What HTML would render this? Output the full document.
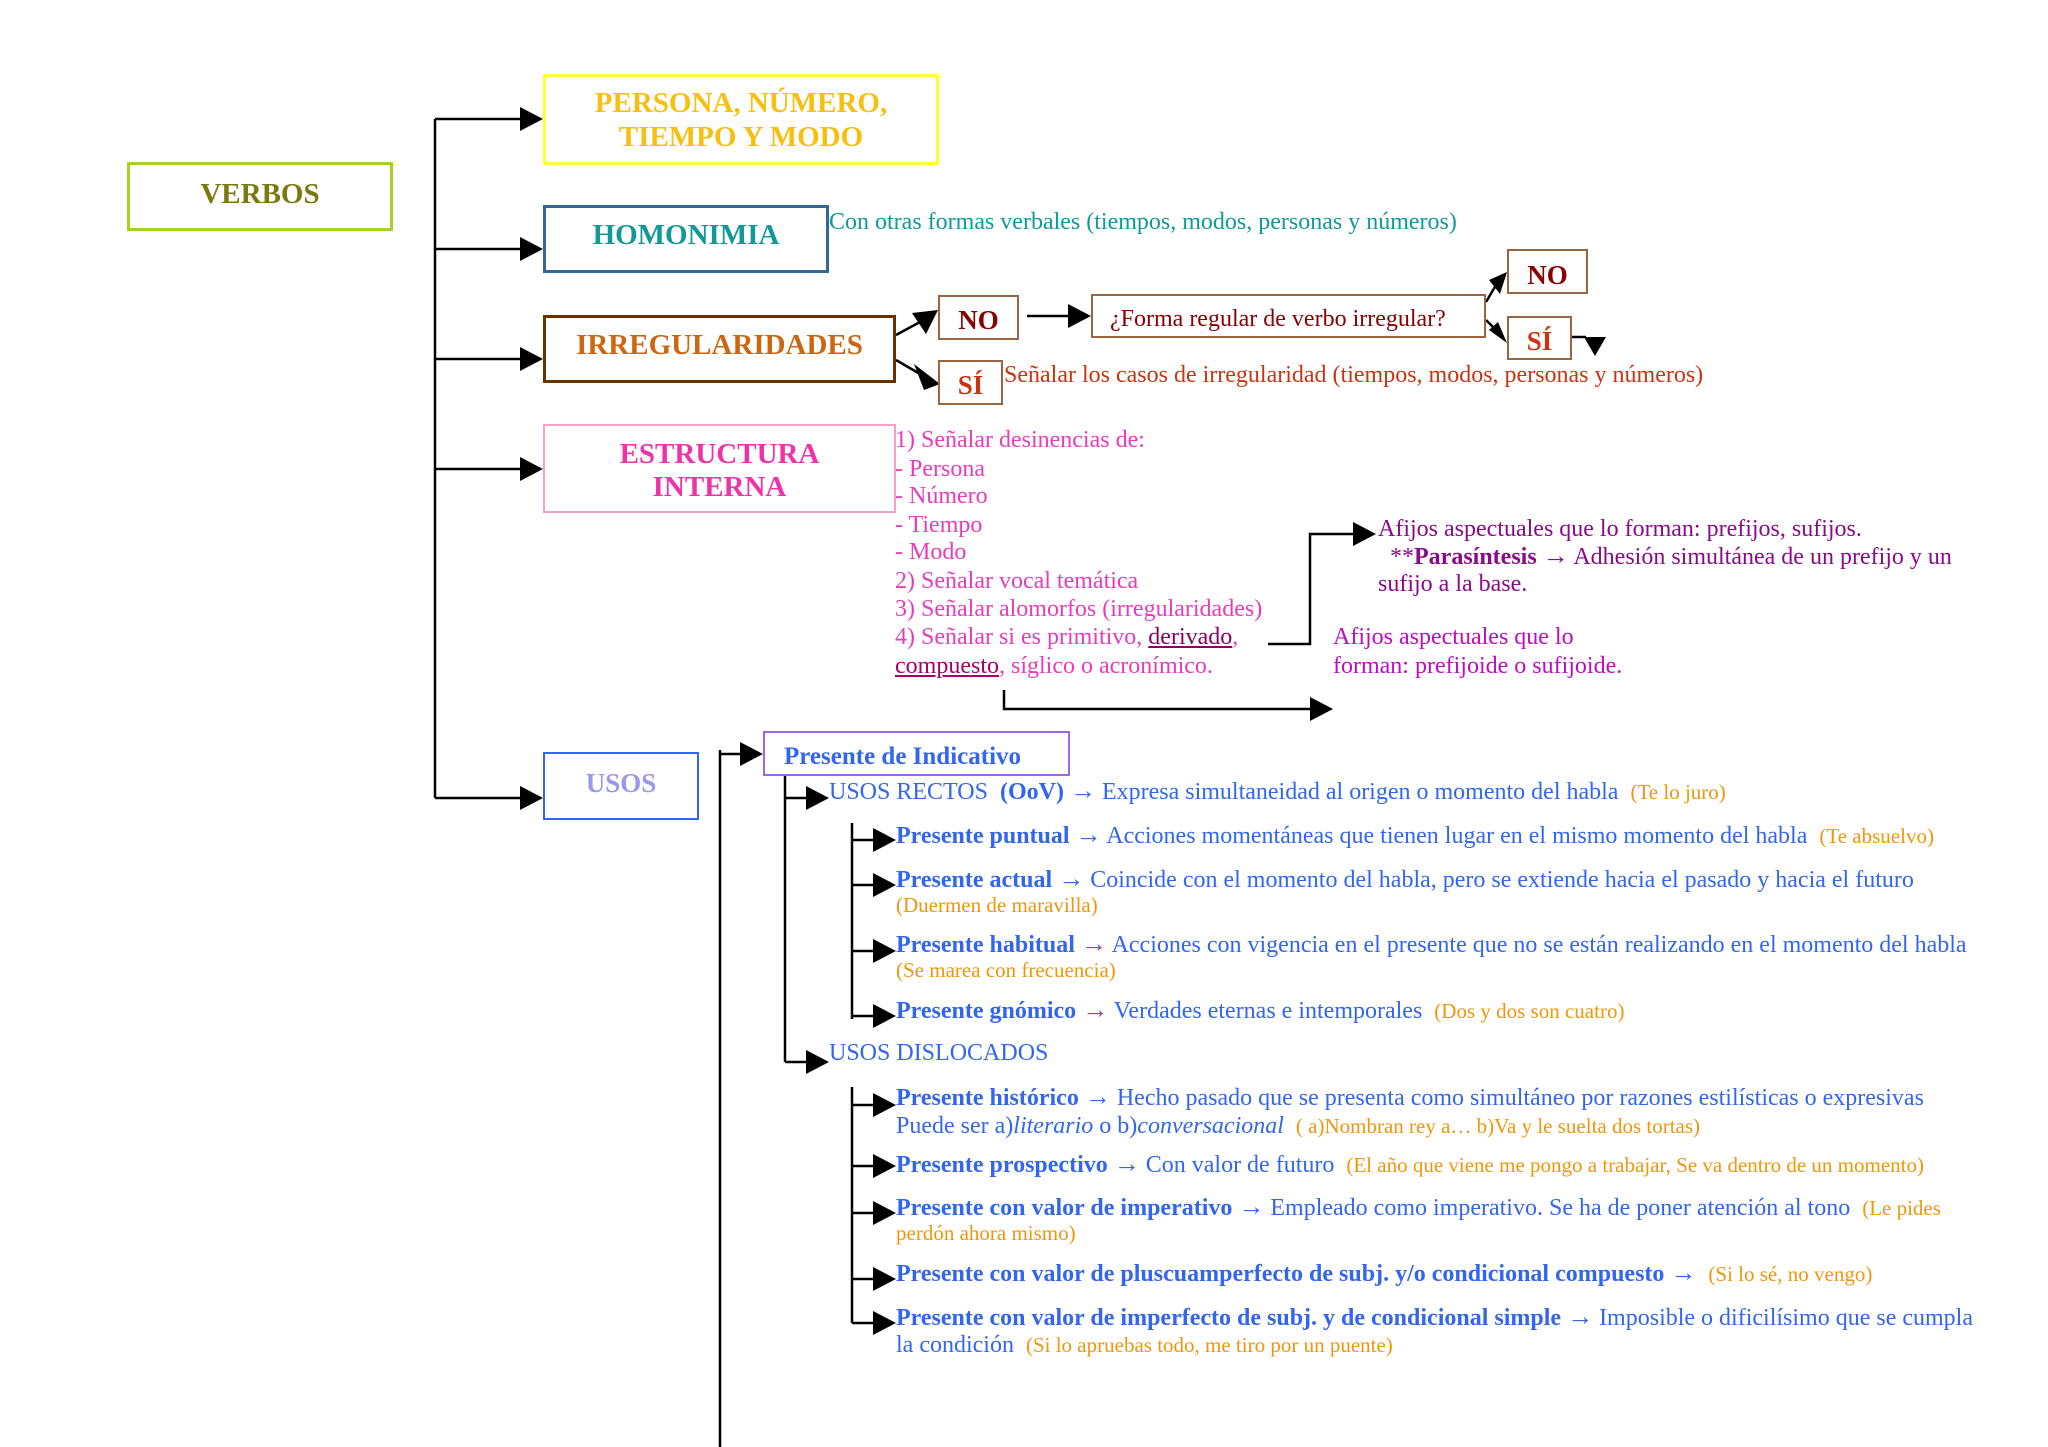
<!DOCTYPE html>
<html><head><meta charset="utf-8"><style>
body{margin:0;background:#fff;}
#c{position:relative;width:2048px;height:1447px;overflow:hidden;font-family:"Liberation Serif",serif;background:#fff;}
.t{position:absolute;white-space:nowrap;line-height:28px;font-size:24px;}
.b{position:absolute;box-sizing:border-box;}
.h{font-weight:bold;font-size:29px;}
.bl{color:#3366ee}.or{color:#f0960a;font-size:21px}
.pk{color:#e83cbc}.pu{color:#8a0a8a}.mg{color:#c00cc0}
.ar{font-size:26px}
</style></head><body><div id="c">
<svg width="2048" height="1447" style="position:absolute;left:0;top:0" fill="#000">
<g stroke="#000" stroke-width="2.5" fill="none">
<path d="M435 119V798"/>
<path d="M435 119H520M435 249H520M435 359H520M435 469H520M435 798H520"/>
<path d="M896 335L920 322M896 360L920 374"/>
<path d="M1027 316H1070"/>
<path d="M1486 302L1496 285M1486 320L1496 330"/>
<path d="M1572 337H1586"/>
<path d="M1268 644H1310V534H1355"/>
<path d="M1004 690V709H1310"/>
<path d="M720 750V1447M720 754H745"/>
<path d="M785 776V1062M785 798H810M785 1062H810"/>
<path d="M852 823V1019M852 840H876M852 885H876M852 951H876M852 1016H876"/>
<path d="M852 1087V1323M852 1105H876M852 1166H876M852 1213H876M852 1279H876M852 1323H876"/>
</g>
<g>
<polygon points="520,107 543,119 520,131"/><polygon points="520,237 543,249 520,261"/>
<polygon points="520,347 543,359 520,371"/><polygon points="520,457 543,469 520,481"/>
<polygon points="520,786 543,798 520,810"/>
<polygon points="912,313 938,310 926,334"/>
<polygon points="914,364 940,384 924,390"/>
<polygon points="1068,304 1091,316 1068,328"/>
<polygon points="1489,280 1507,272 1500,294"/><polygon points="1489,330 1507,343 1498,322"/>
<polygon points="1584,337 1606,337 1595,356"/>
<polygon points="1353,522 1376,534 1353,546"/>
<polygon points="1310,697 1333,709 1310,721"/>
<polygon points="740,742 763,754 740,766"/>
<polygon points="806,786 829,798 806,810"/><polygon points="806,1050 829,1062 806,1074"/>
<polygon points="873,828 896,840 873,852"/><polygon points="873,873 896,885 873,897"/>
<polygon points="873,939 896,951 873,963"/><polygon points="873,1004 896,1016 873,1028"/>
<polygon points="873,1093 896,1105 873,1117"/><polygon points="873,1154 896,1166 873,1178"/>
<polygon points="873,1201 896,1213 873,1225"/><polygon points="873,1267 896,1279 873,1291"/>
<polygon points="873,1311 896,1323 873,1335"/>
</g>
</svg>

<div class="b" style="left:127px;top:162px;width:266px;height:69px;border:3px solid #a8d02a"></div>
<div class="t h" style="left:127px;width:266px;text-align:center;top:180px;color:#7a7a10">VERBOS</div>

<div class="b" style="left:543px;top:74px;width:396px;height:91px;border:3px solid #ffff33"></div>
<div class="t h" style="left:543px;width:396px;text-align:center;top:89px;color:#f7c010">PERSONA, NÚMERO,</div>
<div class="t h" style="left:543px;width:396px;text-align:center;top:123px;color:#f7c010">TIEMPO Y MODO</div>

<div class="b" style="left:543px;top:205px;width:286px;height:68px;border:3px solid #336699"></div>
<div class="t h" style="left:543px;width:286px;text-align:center;top:221px;color:#119999">HOMONIMIA</div>
<div class="t" style="left:829px;top:208px;color:#119999">Con otras formas verbales (tiempos, modos, personas y números)</div>

<div class="b" style="left:543px;top:315px;width:353px;height:68px;border:3px solid #663300"></div>
<div class="t h" style="left:543px;width:353px;text-align:center;top:331px;color:#cc6611">IRREGULARIDADES</div>

<div class="b" style="left:938px;top:295px;width:81px;height:45px;border:2px solid #996644"></div>
<div class="t h" style="left:938px;width:81px;text-align:center;top:306px;color:#880000;font-size:27px">NO</div>
<div class="b" style="left:938px;top:360px;width:65px;height:45px;border:2px solid #996644"></div>
<div class="t h" style="left:938px;width:65px;text-align:center;top:371px;color:#cc3311;font-size:27px">SÍ</div>
<div class="b" style="left:1091px;top:294px;width:395px;height:44px;border:2px solid #996644"></div>
<div class="t" style="left:1110px;top:305px;color:#880000">¿Forma regular de verbo irregular?</div>
<div class="b" style="left:1507px;top:249px;width:81px;height:45px;border:2px solid #996644"></div>
<div class="t h" style="left:1507px;width:81px;text-align:center;top:261px;color:#880000;font-size:27px">NO</div>
<div class="b" style="left:1507px;top:316px;width:65px;height:44px;border:2px solid #996644"></div>
<div class="t h" style="left:1507px;width:65px;text-align:center;top:327px;color:#cc3311;font-size:27px">SÍ</div>
<div class="t" style="left:1004px;top:361px;color:#cc3311">Señalar los casos de irregularidad (tiempos, modos, personas y números)</div>

<div class="b" style="left:543px;top:424px;width:353px;height:89px;border:2px solid #f7a0cc"></div>
<div class="t h" style="left:543px;width:353px;text-align:center;top:440px;color:#ee33aa">ESTRUCTURA</div>
<div class="t h" style="left:543px;width:353px;text-align:center;top:473px;color:#ee33aa">INTERNA</div>
<div class="t pk" style="left:895px;top:426px">1) Señalar desinencias de:</div>
<div class="t pk" style="left:895px;top:455px">- Persona</div>
<div class="t pk" style="left:895px;top:482px">- Número</div>
<div class="t pk" style="left:895px;top:511px">- Tiempo</div>
<div class="t pk" style="left:895px;top:538px">- Modo</div>
<div class="t pk" style="left:895px;top:567px">2) Señalar vocal temática</div>
<div class="t pk" style="left:895px;top:595px">3) Señalar alomorfos (irregularidades)</div>
<div class="t pk" style="left:895px;top:623px">4) Señalar si es primitivo, <u style="color:#880066">derivado</u>,</div>
<div class="t pk" style="left:895px;top:652px"><u style="color:#aa0066">compuesto</u>, síglico o acronímico.</div>
<div class="t pu" style="left:1378px;top:515px">Afijos aspectuales que lo forman: prefijos, sufijos.</div>
<div class="t pu" style="left:1378px;top:542px">&nbsp;&nbsp;**<b>Parasíntesis</b> <span class="ar">→</span> Adhesión simultánea de un prefijo y un</div>
<div class="t pu" style="left:1378px;top:570px">sufijo a la base.</div>
<div class="t mg" style="left:1333px;top:623px">Afijos aspectuales que lo</div>
<div class="t mg" style="left:1333px;top:652px">forman: prefijoide o sufijoide.</div>

<div class="b" style="left:543px;top:752px;width:156px;height:68px;border:2px solid #3366ee"></div>
<div class="t h" style="left:543px;width:156px;text-align:center;top:769px;color:#9999ee;font-size:27px">USOS</div>

<div class="b" style="left:763px;top:731px;width:307px;height:45px;border:2px solid #9966ee"></div>
<div class="t bl" style="left:784px;top:743px;font-weight:bold;font-size:25px">Presente de Indicativo</div>

<div class="t bl" style="left:829px;top:777px">USOS RECTOS &nbsp;<b>(OoV)</b> <span class="ar">→</span> Expresa simultaneidad al origen o momento del habla &nbsp;<span class="or">(Te lo juro)</span></div>
<div class="t bl" style="left:896px;top:821px"><b>Presente puntual</b> <span class="ar">→</span> Acciones momentáneas que tienen lugar en el mismo momento del habla &nbsp;<span class="or">(Te absuelvo)</span></div>
<div class="t bl" style="left:896px;top:865px"><b>Presente actual</b> <span class="ar">→</span> Coincide con el momento del habla, pero se extiende hacia el pasado y hacia el futuro</div>
<div class="t or" style="left:896px;top:891px">(Duermen de maravilla)</div>
<div class="t bl" style="left:896px;top:930px"><b>Presente habitual</b> <span class="ar">→</span> Acciones con vigencia en el presente que no se están realizando en el momento del habla</div>
<div class="t or" style="left:896px;top:956px">(Se marea con frecuencia)</div>
<div class="t bl" style="left:896px;top:996px"><b>Presente gnómico</b> <span class="ar">→</span> Verdades eternas e intemporales &nbsp;<span class="or">(Dos y dos son cuatro)</span></div>
<div class="t bl" style="left:829px;top:1039px">USOS DISLOCADOS</div>
<div class="t bl" style="left:896px;top:1083px"><b>Presente histórico</b> <span class="ar">→</span> Hecho pasado que se presenta como simultáneo por razones estilísticas o expresivas</div>
<div class="t bl" style="left:896px;top:1112px">Puede ser a)<i>literario</i> o b)<i>conversacional</i> &nbsp;<span class="or">( a)Nombran rey a… b)Va y le suelta dos tortas)</span></div>
<div class="t bl" style="left:896px;top:1150px"><b>Presente prospectivo</b> <span class="ar">→</span> Con valor de futuro &nbsp;<span class="or">(El año que viene me pongo a trabajar, Se va dentro de un momento)</span></div>
<div class="t bl" style="left:896px;top:1193px"><b>Presente con valor de imperativo</b> <span class="ar">→</span> Empleado como imperativo. Se ha de poner atención al tono &nbsp;<span class="or">(Le pides</span></div>
<div class="t or" style="left:896px;top:1219px">perdón ahora mismo)</div>
<div class="t bl" style="left:896px;top:1259px"><b>Presente con valor de pluscuamperfecto de subj. y/o condicional compuesto</b> <span class="ar">→</span> &nbsp;<span class="or">(Si lo sé, no vengo)</span></div>
<div class="t bl" style="left:896px;top:1303px"><b>Presente con valor de imperfecto de subj. y de condicional simple</b> <span class="ar">→</span> Imposible o dificilísimo que se cumpla</div>
<div class="t bl" style="left:896px;top:1331px">la condición &nbsp;<span class="or">(Si lo apruebas todo, me tiro por un puente)</span></div>
</div></body></html>
